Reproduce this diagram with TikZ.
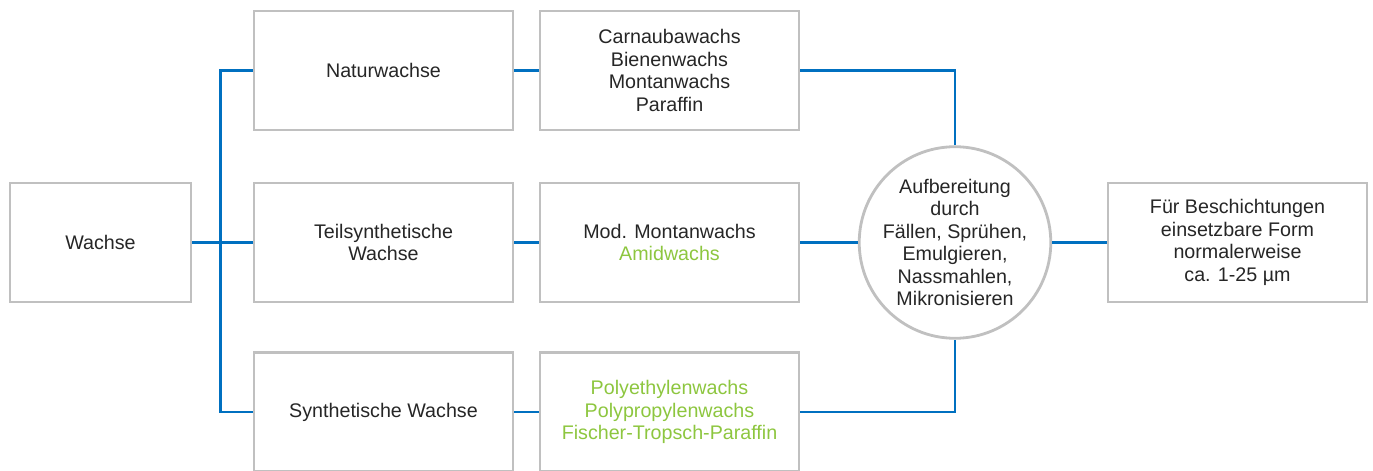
\documentclass[tikz,border=0pt]{standalone}
\usepackage{fontspec}
\setmainfont{Liberation Sans}
\usetikzlibrary{positioning}
\definecolor{boxgray}{RGB}{192,192,192}
\definecolor{linkblue}{RGB}{0,112,192}
\definecolor{waxgreen}{RGB}{141,198,63}
\tikzset{
    waxbox/.style={draw=boxgray, line width=1.6pt, minimum width=5.18cm, minimum height=2.38cm,
        align=center, text=black!85, font=\fontsize{11.2}{12.8}\selectfont},
    link/.style={draw=linkblue, line width=1.6pt},
}
\begin{document}
\begin{tikzpicture}
        \def\rowa{-1.41}
        \def\rowb{-4.85}
        \def\rowc{-8.24}
        \useasboundingbox (0,0) rectangle (27.46,-9.42);
        % boxes
        \node[waxbox, minimum width=3.62cm] (wachse) at (2.01,\rowb) {Wachse};
        \node[waxbox] (natur) at (7.67,\rowa) {Naturwachse};
        \node[waxbox] (teil) at (7.67,\rowb) {Teilsynthetische\\Wachse};
        \node[waxbox] (synth) at (7.67,\rowc) {Synthetische Wachse};
        \node[waxbox] (naturlist) at (13.39,\rowa) {Carnaubawachs\\Bienenwachs\\Montanwachs\\Paraffin};
        \node[waxbox] (teillist) at (13.39,\rowb) {Mod. Montanwachs\\\textcolor{waxgreen}{Amidwachs}};
        \node[waxbox, text=waxgreen] (synthlist) at (13.39,\rowc) {Polyethylenwachs\\Polypropylenwachs\\Fischer-Tropsch-Paraffin};
        \node[waxbox, circle, minimum size=3.64cm, inner sep=0pt] (aufb) at (19.10,\rowb)
            {Aufbereitung\\durch\\Fällen, Sprühen,\\Emulgieren,\\Nassmahlen,\\Mikronisieren};
        \node[waxbox] (form) at (24.75,\rowb) {Für Beschichtungen\\einsetzbare Form\\normalerweise\\ca. 1-25 µm};
        % links
        \draw[link] (wachse.east) -- (teil.west);
        \draw[link] (natur.west) -- ++(-0.64,0) |- (synth.west);
        \foreach \a/\b in {natur/naturlist, teil/teillist, synth/synthlist}
            \draw[link] (\a.east) -- (\b.west);
        \draw[link] (naturlist.east) -| (aufb.north);
        \draw[link] (teillist.east) -- (aufb.west);
        \draw[link] (synthlist.east) -| (aufb.south);
        \draw[link] (aufb.east) -- (form.west);
    \end{tikzpicture}
\end{document}
